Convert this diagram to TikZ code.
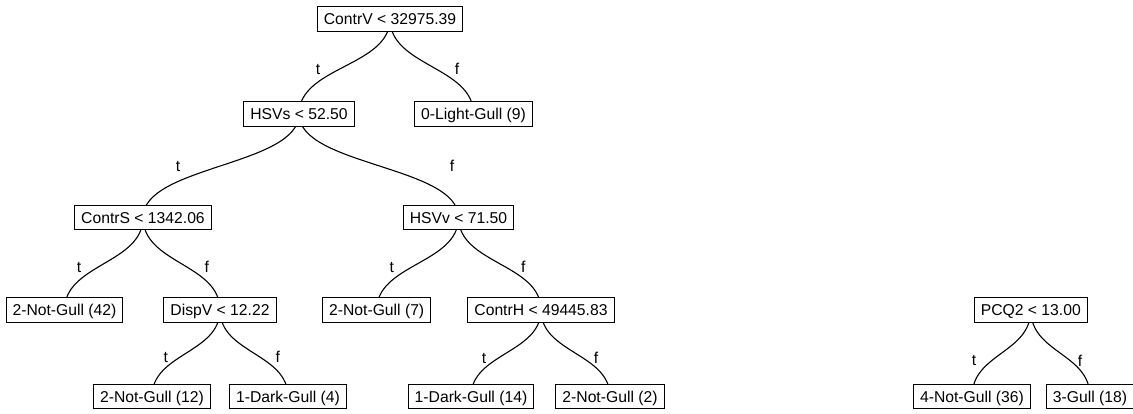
\documentclass[tikz,border=0pt]{standalone}
\usepackage{fontspec}
\setmainfont{Liberation Sans}
\usetikzlibrary{calc}
\pgfdeclarelayer{bg}
\pgfsetlayers{bg,main}
\tikzset{
  box/.style={draw=black, fill=white, line width=1pt, inner xsep=6.5pt, inner ysep=0pt,
    minimum height=24.5pt, text height=11.2pt, text depth=0pt,
    font=\fontsize{15.7}{18}\selectfont},
  lab/.style={inner sep=0pt, font=\fontsize{15.7}{18}\selectfont},
  branchline/.style={line width=1.1pt, draw=black}
}
\newcommand{\branchto}[2]{%
  \begin{pgfonlayer}{bg}
  \draw[branchline] let \p1=(#1.center), \p2=(#2.center) in
    (\p1) .. controls (\x1,{0.5*\y1+0.5*\y2}) and (\x2,{0.5*\y1+0.5*\y2}) .. (\p2);
  \end{pgfonlayer}}
\begin{document}
\begin{tikzpicture}[x=1pt,y=-1pt]
\useasboundingbox (0,0) rectangle (1133,414);
% level 0
\node[box] (cv) at (390,19) {ContrV < 32975.39};
% level 1
\node[box] (hs) at (299,114) {HSVs < 52.50};
\node[box] (lg) at (473.5,114) {0-Light-Gull (9)};
% level 2
\node[box] (cs) at (143,217.5) {ContrS < 1342.06};
\node[box] (hv) at (458.5,217.5) {HSVv < 71.50};
% level 3
\node[box] (n42) at (64.5,310) {2-Not-Gull (42)};
\node[box] (dv) at (220,310) {DispV < 12.22};
\node[box] (n7) at (376.7,310) {2-Not-Gull (7)};
\node[box] (ch) at (541,310) {ContrH < 49445.83};
\node[box] (pq) at (1030.8,310) {PCQ2 < 13.00};
% level 4
\node[box] (n12) at (152,396.5) {2-Not-Gull (12)};
\node[box] (d4) at (288,396.5) {1-Dark-Gull (4)};
\node[box] (d14) at (471,396.5) {1-Dark-Gull (14)};
\node[box] (n2) at (610,396.5) {2-Not-Gull (2)};
\node[box] (n36) at (972,396.5) {4-Not-Gull (36)};
\node[box] (g18) at (1090,396.5) {3-Gull (18)};
% branches
\branchto{cv}{hs}
\branchto{cv}{lg}
\branchto{hs}{cs}
\branchto{hs}{hv}
\branchto{cs}{n42}
\branchto{cs}{dv}
\branchto{hv}{n7}
\branchto{hv}{ch}
\branchto{dv}{n12}
\branchto{dv}{d4}
\branchto{ch}{d14}
\branchto{ch}{n2}
\branchto{pq}{n36}
\branchto{pq}{g18}
% branch labels
\node[lab] (t1) at (318,69) {t};
\node[lab] (f1) at (457,69) {f};
\node[lab] (t2) at (178,166) {t};
\node[lab] (f2) at (452,166) {f};
\node[lab] (t3) at (79,267) {t};
\node[lab] (f3) at (206.7,267) {f};
\node[lab] (t4) at (391.7,267) {t};
\node[lab] (f4) at (523.3,267) {f};
\node[lab] (t5) at (165.7,357) {t};
\node[lab] (f5) at (277.7,357) {f};
\node[lab] (t6) at (484,358.3) {t};
\node[lab] (f6) at (596,358.3) {f};
\node[lab] (t7) at (974,360.7) {t};
\node[lab] (f7) at (1080,360.7) {f};
\end{tikzpicture}
\end{document}
